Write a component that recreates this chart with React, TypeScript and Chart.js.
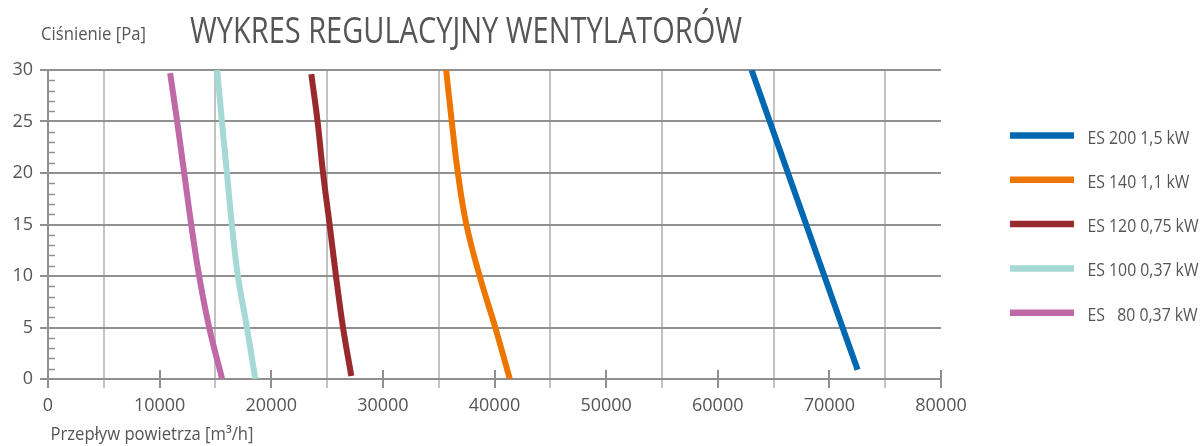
import React, { useEffect, useRef } from "react";
import { Chart, registerables } from "chart.js";

Chart.register(...registerables);

const chartTitle = "WYKRES REGULACYJNY WENTYLATORÓW";
const yAxisTitle = "Ciśnienie [Pa]";
const xAxisTitle = "Przepływ powietrza [m³/h]";

const seriesLabels = [
  "ES 200 1,5 kW",
  "ES 140 1,1 kW",
  "ES 120 0,75 kW",
  "ES 100 0,37 kW",
  "ES   80 0,37 kW",
];
const seriesColors = ["#0067b1", "#ec7600", "#982a2d", "#a5d9d5", "#bf69a6"];

const es200Flow = [72530, 71180, 69550, 67920, 66290, 64660, 63030];
const es200Pressure = [0.9, 5, 10, 15, 20, 25, 30];
const es140Flow = [41370, 40070, 38670, 37480, 36720, 36170, 35670];
const es140Pressure = [0, 5, 10, 15, 20, 25, 30];
const es120Flow = [27170, 26430, 25800, 25230, 24640, 24150, 23590];
const es120Pressure = [0.3, 5, 10, 15, 20, 25, 29.6];
const es100Flow = [18570, 17820, 17010, 16470, 16030, 15580, 15160];
const es100Pressure = [0, 5, 10, 15, 20, 25, 30];
const es80Flow = [15600, 14440, 13540, 12830, 12200, 11570, 10940];
const es80Pressure = [0, 5, 10, 15, 20, 25, 29.7];

const flows = [es200Flow, es140Flow, es120Flow, es100Flow, es80Flow];
const pressures = [es200Pressure, es140Pressure, es120Pressure, es100Pressure, es80Pressure];

const xMin = 0;
const xMax = 80000;
const xStep = 5000;
const xLabelStep = 10000;
const yMin = 0;
const yMax = 30;
const yStep = 5;
const yMinorStep = 1;

const FONT = "'Open Sans', 'Liberation Sans', sans-serif";
const TEXT = "#555555";
const AXIS = "#909090";
const VGRID = "#c3c3c3";

function fitText(ctx: CanvasRenderingContext2D, text: string, x: number, y: number, sx: number) {
  ctx.save();
  ctx.translate(x, y);
  ctx.scale(sx, 1);
  ctx.fillText(text, 0, 0);
  ctx.restore();
}

const decorPlugin = {
  id: "decor",
  beforeDatasetsDraw(chart: any) {
    const ctx: CanvasRenderingContext2D = chart.ctx;
    const xs = chart.scales.x;
    const ys = chart.scales.y;
    const area = chart.chartArea;
    ctx.save();
    ctx.strokeStyle = AXIS;
    ctx.lineWidth = 1.5;
    for (let v = yMin + yMinorStep; v < yMax; v += yMinorStep) {
      if (v % yStep === 0) continue;
      const py = Math.round(ys.getPixelForValue(v)) + 0.5;
      ctx.beginPath();
      ctx.moveTo(area.left, py);
      ctx.lineTo(area.left + 7, py);
      ctx.stroke();
    }
    ctx.lineWidth = 2;
    for (let v = xMin; v <= xMax; v += xLabelStep) {
      const px = Math.round(xs.getPixelForValue(v));
      ctx.beginPath();
      ctx.moveTo(px, area.bottom - 9);
      ctx.lineTo(px, area.bottom);
      ctx.stroke();
    }
    ctx.restore();
  },
  afterDraw(chart: any) {
    const ctx: CanvasRenderingContext2D = chart.ctx;
    ctx.save();
    ctx.fillStyle = TEXT;
    ctx.textBaseline = "alphabetic";
    ctx.textAlign = "left";

    ctx.font = `37px ${FONT}`;
    let w = ctx.measureText(chartTitle).width;
    fitText(ctx, chartTitle, 190, 43, 552 / w);

    ctx.font = `18px ${FONT}`;
    w = ctx.measureText(yAxisTitle).width;
    fitText(ctx, yAxisTitle, 41, 40, 105 / w);
    w = ctx.measureText(xAxisTitle).width;
    fitText(ctx, xAxisTitle, 50.5, 440, 203 / w);

    ctx.font = `18px ${FONT}`;
    let maxW = 0;
    chart.data.datasets.forEach((ds: any) => {
      maxW = Math.max(maxW, ctx.measureText(ds.label).width);
    });
    const sx = 111 / maxW;
    chart.data.datasets.forEach((ds: any, i: number) => {
      const y = 135.5 + i * 44.3;
      ctx.strokeStyle = ds.borderColor;
      ctx.lineWidth = 6.5;
      ctx.lineCap = "butt";
      ctx.beginPath();
      ctx.moveTo(1010, y);
      ctx.lineTo(1074, y);
      ctx.stroke();
      ctx.fillStyle = TEXT;
      fitText(ctx, ds.label, 1087.5, y + 8, sx);
    });
    ctx.restore();
  },
};

export default function App() {
  const canvasRef = useRef<HTMLCanvasElement | null>(null);

  useEffect(() => {
    if (!canvasRef.current) return;
    const datasets = seriesLabels.map((label, i) => ({
      label,
      data: flows[i].map((f, j) => ({ x: f, y: pressures[i][j] })),
      borderColor: seriesColors[i],
      backgroundColor: seriesColors[i],
      borderWidth: 6,
      borderCapStyle: "butt" as const,
      pointRadius: 0,
      pointHoverRadius: 0,
      showLine: true,
      tension: 0.4,
      fill: false,
    }));

    const chart = new Chart(canvasRef.current, {
      type: "scatter",
      data: { datasets },
      plugins: [decorPlugin],
      options: {
        responsive: false,
        animation: false,
        devicePixelRatio: 1,
        layout: { padding: { left: 0, right: 259, top: 70, bottom: 0 } },
        plugins: {
          legend: { display: false },
          title: { display: false },
          tooltip: { enabled: false },
        },
        scales: {
          x: {
            type: "linear",
            min: xMin,
            max: xMax,
            afterFit: (scale: any) => {
              scale.height = 67;
            },
            border: { display: true, color: AXIS, width: 2 },
            grid: {
              color: (c: any) => (c.tick && c.tick.value % xLabelStep === 0 ? "rgba(0,0,0,0)" : VGRID),
              tickColor: (c: any) => (c.tick && c.tick.value % xLabelStep === 0 ? AXIS : VGRID),
              lineWidth: 2,
              tickLength: 9,
              drawTicks: true,
            },
            ticks: {
              stepSize: xStep,
              autoSkip: false,
              maxRotation: 0,
              padding: 7,
              color: TEXT,
              font: { family: FONT, size: 18 },
              callback: (v: any) => (Number(v) % xLabelStep === 0 ? String(v) : ""),
            },
          },
          y: {
            type: "linear",
            min: yMin,
            max: yMax,
            afterFit: (scale: any) => {
              scale.width = 48;
            },
            border: { display: true, color: AXIS, width: 2 },
            grid: {
              color: AXIS,
              tickColor: AXIS,
              lineWidth: 2,
              tickLength: 8,
            },
            ticks: {
              stepSize: yStep,
              padding: 7,
              color: TEXT,
              font: { family: FONT, size: 18 },
              callback: (v: any) => String(v),
            },
          },
        },
      },
    });
    return () => chart.destroy();
  }, []);

  return (
    <div style={{ position: "absolute", left: 0, top: 0, width: 1200, height: 446, background: "#fff" }}>
      <canvas ref={canvasRef} width={1200} height={446} style={{ display: "block" }} />
    </div>
  );
}
